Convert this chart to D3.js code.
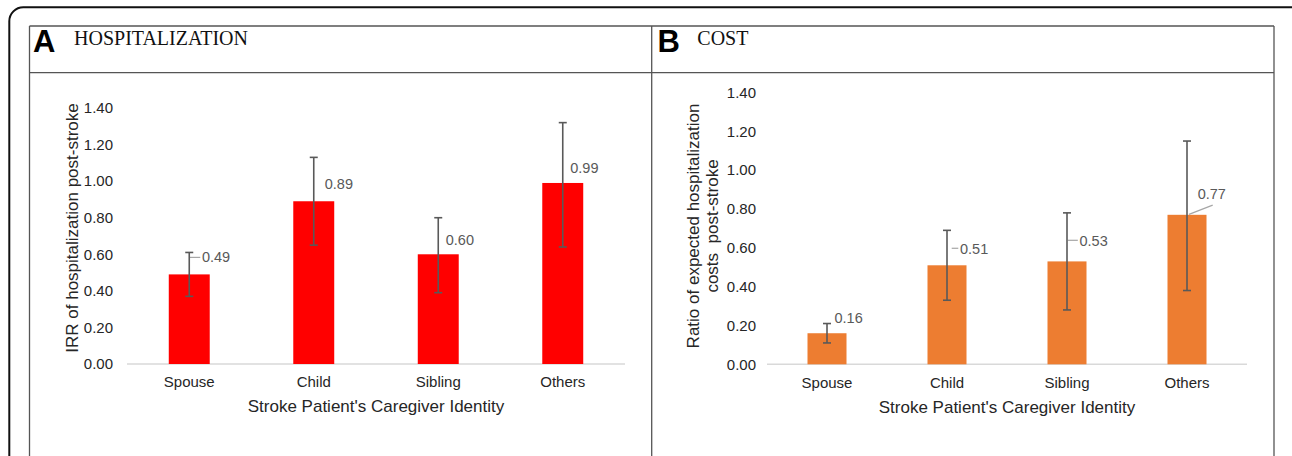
<!DOCTYPE html>
<html>
<head>
<meta charset="utf-8">
<script src="https://cdn.jsdelivr.net/npm/d3@7"></script>
<style>
  html, body { margin: 0; padding: 0; background: #fff; }
  svg { display: block; }
  text { font-family: "Liberation Sans", Arial, sans-serif; }
</style>
</head>
<body>
<svg id="chart" width="1292" height="456"></svg>
<script>
// ---------------- DATA ----------------
const categories = ["Spouse", "Child", "Sibling", "Others"];

// Panel A: hospitalization IRR
const hospValues = [0.49, 0.89, 0.60, 0.99];
const hospLow    = [0.37, 0.65, 0.39, 0.64];
const hospHigh   = [0.61, 1.13, 0.80, 1.32];
const hospLabels = ["0.49", "0.89", "0.60", "0.99"];

// Panel B: cost ratio
const costValues = [0.16, 0.51, 0.53, 0.77];
const costLow    = [0.11, 0.33, 0.28, 0.38];
const costHigh   = [0.21, 0.69, 0.78, 1.15];
const costLabels = ["0.16", "0.51", "0.53", "0.77"];

const yTicks = [0, 0.2, 0.4, 0.6, 0.8, 1.0, 1.2, 1.4];

// ---------------- LAYOUT ----------------
// label nudges relative to bar center / bar top: [dx, dy, leader]
const hospLabelLayout = [
  {dx: 12.7, dy: -17, leader: [[0, 0], [11, 0]]},
  {dx: 11,   dy: -17.6, leader: null},
  {dx: 7.5,  dy: -14.6, leader: null},
  {dx: 7.5,  dy: -15, leader: null}
];
const costLabelLayout = [
  {dx: 7.5,  dy: -15, leader: null},
  {dx: 13,   dy: -16, leader: [[4.7, -1], [11.3, -1]]},
  {dx: 12.5, dy: -20.6, leader: [[0.8, -0.5], [10.8, -0.5]]},
  {dx: 10.7, dy: -20.4, leader: [[2, 20], [25.7, 10.7]]}
];

const svg = d3.select("#chart");

// outer rounded frame
svg.append("rect")
  .attr("x", 9.3).attr("y", 7.3)
  .attr("width", 1300).attr("height", 520)
  .attr("rx", 14).attr("ry", 14)
  .attr("fill", "none").attr("stroke", "#111").attr("stroke-width", 2);

// table lines
const tbl = svg.append("g").attr("stroke", "#555").attr("stroke-width", 1.3).attr("fill", "none");
tbl.append("line").attr("x1", 29.5).attr("x2", 1274).attr("y1", 26).attr("y2", 26);
tbl.append("line").attr("x1", 29.5).attr("x2", 1274).attr("y1", 72.7).attr("y2", 72.7);
tbl.append("line").attr("x1", 29.5).attr("x2", 29.5).attr("y1", 26).attr("y2", 470);
tbl.append("line").attr("x1", 651.7).attr("x2", 651.7).attr("y1", 26).attr("y2", 470);
tbl.append("line").attr("x1", 1274).attr("x2", 1274).attr("y1", 26).attr("y2", 470);

// headers
function header(xLetter, letter, xTitle, title) {
  svg.append("text").attr("x", xLetter).attr("y", 52)
    .style("font-family", "'Liberation Sans', Arial, sans-serif")
    .style("font-weight", "bold").style("font-size", "31px").attr("fill", "#000")
    .text(letter);
  svg.append("text").attr("x", xTitle).attr("y", 45)
    .style("font-family", "'Liberation Serif', 'Times New Roman', serif")
    .style("font-size", "20px").attr("fill", "#111")
    .text(title);
}
header(33, "A", 74, "HOSPITALIZATION");
header(657.5, "B", 697.3, "COST");

function panel(cfg) {
  const g = svg.append("g");
  const x = d3.scaleBand().domain(categories)
    .range([cfg.x0, cfg.x1]).paddingInner(cfg.pad).paddingOuter(cfg.pad / 2);
  const y = d3.scaleLinear().domain([0, 1.4]).range([cfg.yBase, cfg.yTop]);

  // y axis labels
  const yAxis = d3.axisLeft(y).tickValues(yTicks).tickSize(0).tickPadding(cfg.tickPad)
    .tickFormat(d3.format(".2f"));
  const ya = g.append("g").attr("transform", `translate(${cfg.x0},0)`).call(yAxis);
  ya.select(".domain").remove();
  ya.selectAll("text")
    .style("font-family", "'Liberation Sans', Arial, sans-serif")
    .style("font-size", "15px").attr("fill", "#262626");

  // baseline
  g.append("line").attr("x1", cfg.x0).attr("x2", cfg.x1)
    .attr("y1", y(0)).attr("y2", y(0))
    .attr("stroke", "#d9d9d9").attr("stroke-width", 1.5);

  // bars
  g.selectAll("rect.bar").data(cfg.values).enter().append("rect")
    .attr("class", "bar")
    .attr("x", (d, i) => x(categories[i]))
    .attr("width", x.bandwidth())
    .attr("y", d => y(d))
    .attr("height", d => y(0) - y(d))
    .attr("fill", cfg.color);

  // leaders
  cfg.values.forEach((v, i) => {
    const L = cfg.layout[i];
    const cx = x(categories[i]) + x.bandwidth() / 2;
    const ly = y(v) + L.dy;
    if (L.leader) {
      g.append("line")
        .attr("x1", cx + L.leader[0][0]).attr("y1", ly + L.leader[0][1])
        .attr("x2", cx + L.leader[1][0]).attr("y2", ly + L.leader[1][1])
        .attr("stroke", "#a6a6a6").attr("stroke-width", 1.2);
    }
  });

  // error bars
  const cap = 4;
  cfg.values.forEach((v, i) => {
    const cx = x(categories[i]) + x.bandwidth() / 2;
    const eg = g.append("g").attr("stroke", "#595959").attr("stroke-width", 1.6);
    eg.append("line").attr("x1", cx).attr("x2", cx).attr("y1", y(cfg.high[i])).attr("y2", y(cfg.low[i]));
    eg.append("line").attr("x1", cx - cap).attr("x2", cx + cap).attr("y1", y(cfg.high[i])).attr("y2", y(cfg.high[i]));
    eg.append("line").attr("x1", cx - cap).attr("x2", cx + cap).attr("y1", y(cfg.low[i])).attr("y2", y(cfg.low[i]));
  });

  // data labels
  cfg.values.forEach((v, i) => {
    const L = cfg.layout[i];
    const cx = x(categories[i]) + x.bandwidth() / 2;
    g.append("text")
      .attr("x", cx + L.dx).attr("y", y(v) + L.dy)
      .attr("dy", "0.35em")
      .style("font-family", "'Liberation Sans', Arial, sans-serif")
      .style("font-size", "14.5px").attr("fill", "#595959")
      .text(cfg.labels[i]);
  });

  // category labels
  g.selectAll("text.cat").data(categories).enter().append("text")
    .attr("class", "cat")
    .attr("x", d => x(d) + x.bandwidth() / 2)
    .attr("y", cfg.catY)
    .attr("text-anchor", "middle")
    .style("font-size", "15px").attr("fill", "#262626")
    .text(d => d);

  // x title
  g.append("text")
    .attr("x", (cfg.x0 + cfg.x1) / 2).attr("y", cfg.catY + 25)
    .attr("text-anchor", "middle")
    .style("font-size", "17px").attr("fill", "#262626")
    .text("Stroke Patient's Caregiver Identity");

  // y title
  cfg.yTitle.forEach((t, k) => {
    g.append("text")
      .attr("transform", `translate(${cfg.yTitleX[k]},${cfg.yTitleY}) rotate(-90)`)
      .attr("text-anchor", "middle").attr("dy", "0.35em")
      .style("font-size", "17px").style("white-space", "pre").attr("fill", "#262626")
      .text(t);
  });
}

panel({
  x0: 127, x1: 625, pad: 0.671, yBase: 364, yTop: 108, tickPad: 14,
  values: hospValues, low: hospLow, high: hospHigh, labels: hospLabels,
  layout: hospLabelLayout, color: "#ff0000", catY: 387,
  yTitle: ["IRR of hospitalization post-stroke"], yTitleX: [72], yTitleY: 228
});

panel({
  x0: 767, x1: 1247, pad: 0.675, yBase: 364.3, yTop: 92.5, tickPad: 11,
  values: costValues, low: costLow, high: costHigh, labels: costLabels,
  layout: costLabelLayout, color: "#ed7d31", catY: 388,
  yTitle: ["Ratio of expected hospitalization", "costs  post-stroke"], yTitleX: [693, 711.7], yTitleY: 226
});
</script>
</body>
</html>
